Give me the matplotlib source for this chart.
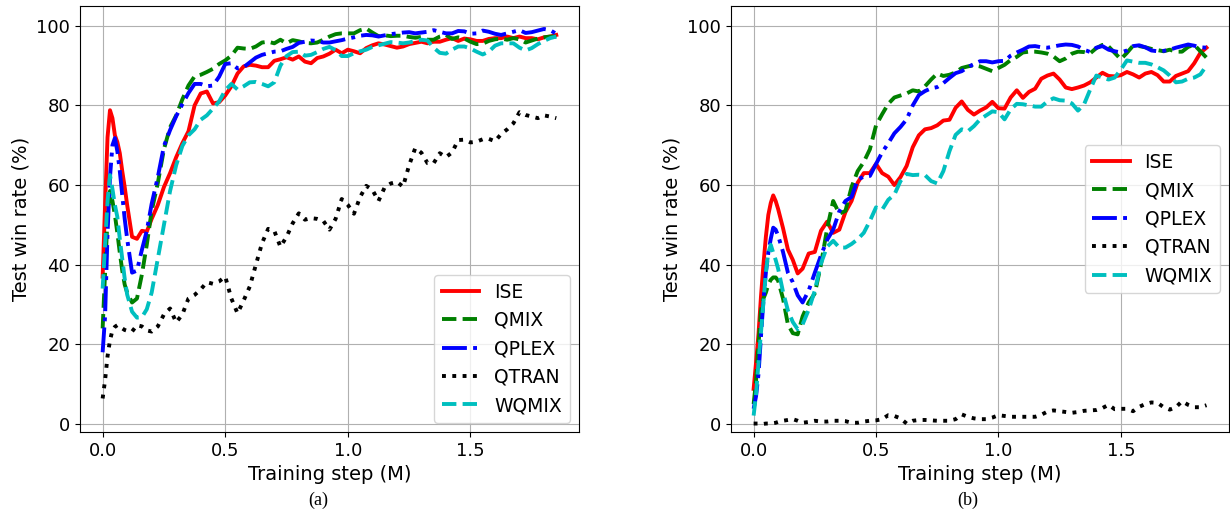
import matplotlib
matplotlib.use("Agg")
import matplotlib.pyplot as plt

# training steps (millions) at which the win rate was evaluated
steps = [0.0, 0.01, 0.02, 0.03, 0.04, 0.05, 0.06, 0.07, 0.08, 0.09, 0.10,
         0.12, 0.14, 0.16, 0.18, 0.20] + [round(0.2 + 0.025 * k, 3) for k in range(1, 67)]

methods = ["ISE", "QMIX", "QPLEX", "QTRAN", "WQMIX"]

# ---- map (a) ----
ise_a = [37, 55, 72, 78.8, 76.8, 72.5, 70.8, 68, 63.5, 59.5, 55, 47, 46.5, 48.5, 48.3, 51.5,
         55, 59.5, 63, 67, 70.5, 73.5, 80, 83,
         83.5, 80.5, 80.8, 82.5, 84.8, 88, 89.8, 90.2,
         90.0, 89.6, 89.6, 91.2, 91.6, 92.1, 91.5, 92.3,
         91, 90.6, 91.9, 92.3, 93.0, 94, 93.1, 94,
         93.6, 93.1, 94.4, 95.1, 95.6, 95.3, 94.9, 94.5,
         94.8, 95.4, 95.7, 96, 95.6, 96, 96, 96.5,
         96.9, 96.2, 96.8, 96.6, 96.2, 96.2, 96.7, 96.9,
         96.9, 97.3, 96.9, 97.3, 96.9, 96.9, 96.6, 97.1,
         97.3, 97.7]
qmix_a = [24, 38, 52, 58.5, 56, 52.5, 48, 43, 38.5, 35, 33, 30.5, 31.5, 37.5, 45, 53.5,
          60.5, 69, 74.5, 77.5, 81.5, 85, 87.3, 87.7,
          88.4, 89.2, 90.4, 91.3, 92.5, 94.5, 94.3, 94.2,
          94.8, 95.8, 96, 95.6, 96.5, 95.6, 96.4, 96.1,
          95.7, 95.6, 95.8, 96.5, 97.3, 97.9, 98.1, 98.1,
          98.1, 98.9, 99.3, 98.3, 97.4, 97.6, 97.4, 97.5,
          97.5, 97.2, 97.0, 97.2, 96.5, 96.5, 97.3, 97.7,
          96.7, 97.1, 96.8, 96, 95.4, 95.5, 96.2, 96.6,
          96.8, 96.5, 96.9, 96.6, 95.8, 96.3, 96.8, 97.1,
          97.3, 97.3]
qplex_a = [18, 27, 48, 62, 70, 71.8, 68.5, 63.5, 57.5, 51.5, 46.5, 38, 38.5, 43.7, 48.5, 55.3,
           62, 69.8, 73.8, 77.3, 80.3, 83.1, 85.4, 85.4,
           84.8, 85, 87.2, 90.4, 90.6, 89.3, 89.6, 90.8,
           92, 92.7, 93.1, 93.5, 93.6, 94.2, 94.7, 95.7,
           96, 96.3, 96.2, 95.8, 95.8, 96.1, 96.4, 96.8,
           97.1, 97.5, 97.7, 97.6, 97.3, 97.6, 97.9, 98.1,
           98.3, 98.4, 98.1, 98.3, 98.5, 98.9, 98.5, 98.1,
           98.1, 98.7, 98.6, 98, 98.1, 98.8, 98.5, 98,
           97.7, 98.1, 98.5, 98.9, 98.2, 98.4, 98.8, 99.2,
           98.9, 98]
qtran_a = [6.4, 11, 17, 21, 23.5, 24.4, 24.8, 24.5, 24, 23.6, 23.4, 23.2, 24.8, 24.5, 23.5, 23.2,
           24.5, 27.5, 29, 25.5, 27.5, 31.5, 32.4, 33.8,
           35.6, 35.2, 35.8, 37, 31.5, 27.8, 31, 34.5,
           40, 45.4, 49, 48.5, 44.5, 47, 50.4, 52.9,
           51.3, 51.7, 51.5, 51, 48.8, 51.5, 56.5, 55,
           52.8, 57, 59.8, 58.8, 56, 59.4, 60.4, 60.8,
           59.6, 65, 69.3, 68.1, 65.5, 65.5, 68, 67,
           68.2, 71.3, 71.4, 70.7, 70.9, 71.5, 71.6, 71,
           72.8, 74, 75.5, 78.3, 77.6, 77.2, 76.8, 77.5,
           77.2, 76.8]
wqmix_a = [34, 45, 56, 62.5, 59, 55, 52, 46.5, 41.5, 36.5, 32.5, 28.2, 26.7, 26.8, 28.8, 33,
           41.5, 50, 58.5, 65, 69.8, 72.5, 74, 76.4,
           77.5, 79.2, 81, 83.8, 85.4, 84, 84.8, 85.8,
           85.9, 85.4, 84.8, 85.8, 90, 92.4, 93.4, 93.5,
           92.5, 92.7, 93.4, 94.2, 94.7, 93.9, 92.4, 92.4,
           93.1, 93.6, 94, 94.7, 95.1, 95.5, 95.9, 95.8,
           95.6, 95.8, 96.2, 96.5, 96.3, 94.5, 93.2, 93,
           94, 94.8, 94.8, 94.3, 93.5, 92.8, 93.5, 95,
           95.6, 95.6, 95.6, 94.5, 93.8, 94.4, 95.4, 96.2,
           96.9, 97.3]

# ---- map (b) ----
ise_b = [8.8, 15.5, 22.7, 32, 40, 47, 52.5, 55.5, 57.4, 56, 54, 49.2, 43.8, 41.2, 37.8, 39,
         42.8, 43.2, 48.5, 50.8, 48, 48.8, 53.2, 56,
         60.6, 63, 63, 65.3, 63, 62.1, 60, 62,
         64.8, 69.5, 72.5, 74, 74.3, 75, 76.2, 76.4,
         79.4, 81, 78.9, 77.7, 78.7, 79.5, 80.9, 79.3,
         79.2, 82, 83.8, 81.9, 83.4, 84.2, 86.7, 87.5,
         88, 86.5, 84.5, 84.1, 84.5, 85, 85.8, 87,
         88.2, 87.4, 87.3, 87.6, 88.4, 87.8, 87, 88,
         88.4, 87.6, 86, 86, 87.4, 88, 88.6, 90.6,
         93.2, 94.5]
qmix_b = [5, 11, 20, 28.5, 31.5, 33, 35, 36.2, 36.8, 36.8, 36, 31.5, 25, 22.8, 22.5, 27,
          30.5, 32.8, 40, 49, 56, 52.8, 53.5, 59.5,
          63.5, 65.8, 69, 75, 77.8, 80.4, 82, 82.5,
          83, 83.8, 83.5, 84.8, 86.5, 88, 87.4, 87.7,
          88.3, 89.4, 89.8, 90.1, 89.8, 89.2, 88.6, 89.4,
          90.2, 91.4, 92.2, 93.3, 93.5, 93.5, 93.3, 93,
          92.3, 91.1, 91.8, 93, 93.5, 93.4, 93.1, 94.4,
          95.2, 94.8, 93.2, 91.6, 93.2, 95, 94.9, 94.6,
          94.2, 93.9, 93.6, 94, 93.5, 93.5, 94.7, 95.2,
          93.6, 92]
qplex_b = [3.8, 7, 12.6, 22, 31, 38, 43, 46.5, 49.3, 48.8, 47.3, 43.2, 38, 35.6, 32.3, 30.5,
           33.5, 38, 42.3, 46.2, 48.8, 53.4, 56, 57,
           61.4, 62.1, 62.3, 65.3, 68.2, 70.5, 73, 74.6,
           76.5, 80, 82.6, 83.6, 84.3, 84.6, 85.6, 86.9,
           88.1, 88.6, 89.6, 90.4, 91.1, 91.1, 90.8, 91.1,
           91.2, 92.5, 93.3, 94, 94.8, 94.9, 94.6, 94.5,
           94.8, 95.1, 95.3, 95.2, 94.8, 94, 93.4, 94.5,
           94.9, 94, 93.6, 93.3, 93.8, 94.9, 95.1, 94.6,
           93.8, 93.6, 93.7, 94, 94.5, 94.9, 95.3, 95,
           94.6, 94.5]
qtran_b = [0.1, 0.1, 0.1, 0, 0, 0.1, 0.1, 0.1, 0.2, 0.3, 0.5, 0.8, 1, 1.2, 0.8, 0.3,
           0.5, 0.8, 0.6, 0.6, 0.8, 0.8, 0.7, 0.3,
           0.3, 0.6, 0.8, 0.9, 1.2, 2.2, 2, 1.4,
           0.1, 0.8, 1, 1, 0.9, 0.8, 0.8, 0.8,
           1.2, 2.4, 1.8, 1.4, 1.2, 1.2, 1.6, 2.2,
           2, 1.8, 1.8, 1.8, 1.8, 1.8, 2.3, 3.1,
           3.4, 3.2, 3, 2.8, 3, 3.3, 3.4, 3.5,
           4, 4.8, 3.7, 3.8, 3.8, 3.2, 4.3, 5,
           5.4, 5.3, 4.2, 3.6, 4.2, 5.7, 4.8, 4.2,
           4.2, 4.7]
wqmix_b = [2.1, 7.5, 15.5, 23, 30.5, 38, 43, 45, 43, 41.2, 39, 33.2, 28.5, 25.6, 23.8, 25,
           28.7, 33.5, 40.3, 44.5, 46, 44.3, 44.3, 45.2,
           46.4, 48, 51, 54.4, 53.8, 56.3, 57.6, 61,
           62.8, 62.5, 62.6, 62.5, 61, 60.4, 63.5, 68.5,
           72.6, 74, 73.5, 74.8, 76.5, 77.5, 78.5, 78.3,
           76.5, 79, 80.4, 80.3, 80, 79.7, 79.7, 81,
           81.8, 81.3, 81.2, 80.5, 78.7, 80.3, 84, 87.5,
           87, 86.5, 87, 89, 91.3, 91, 90.7, 90.7,
           90.3, 89.6, 88.8, 87.5, 85.8, 86, 86.7, 87,
           87.8, 90]

styles = ["r-", "g--", "b-.", "k:", "c--"]

fig = plt.figure(figsize=(12.3, 5.21), dpi=100)
ax_a = fig.add_axes([0.065, 0.171, 0.4057, 0.8177])
ax_b = fig.add_axes([0.5943, 0.171, 0.405, 0.8177])


def draw(ax, series, legend_loc):
    for name, vals, fmt in zip(methods, series, styles):
        ax.plot(steps, vals, fmt, lw=2.8, label=name)
    ax.set_ylim(-2, 105)
    ax.set_xticks([0.0, 0.5, 1.0, 1.5])
    ax.set_yticks([0, 20, 40, 60, 80, 100])
    ax.tick_params(labelsize=13)
    ax.set_xlabel("Training step (M)", fontsize=14)
    ax.set_ylabel("Test win rate (%)", fontsize=14)
    ax.grid(True)
    ax.legend(loc=legend_loc, fontsize=13.5)


draw(ax_a, [ise_a, qmix_a, qplex_a, qtran_a, wqmix_a], "lower right")
draw(ax_b, [ise_b, qmix_b, qplex_b, qtran_b, wqmix_b], "center right")

serif = ["Liberation Serif", "DejaVu Serif"]
fig.text(0.2585, 0.04, "(a)", ha="center", va="center", fontsize=13, family=serif)
fig.text(0.787, 0.04, "(b)", ha="center", va="center", fontsize=13, family=serif)

fig.savefig("out.png", dpi=100)
